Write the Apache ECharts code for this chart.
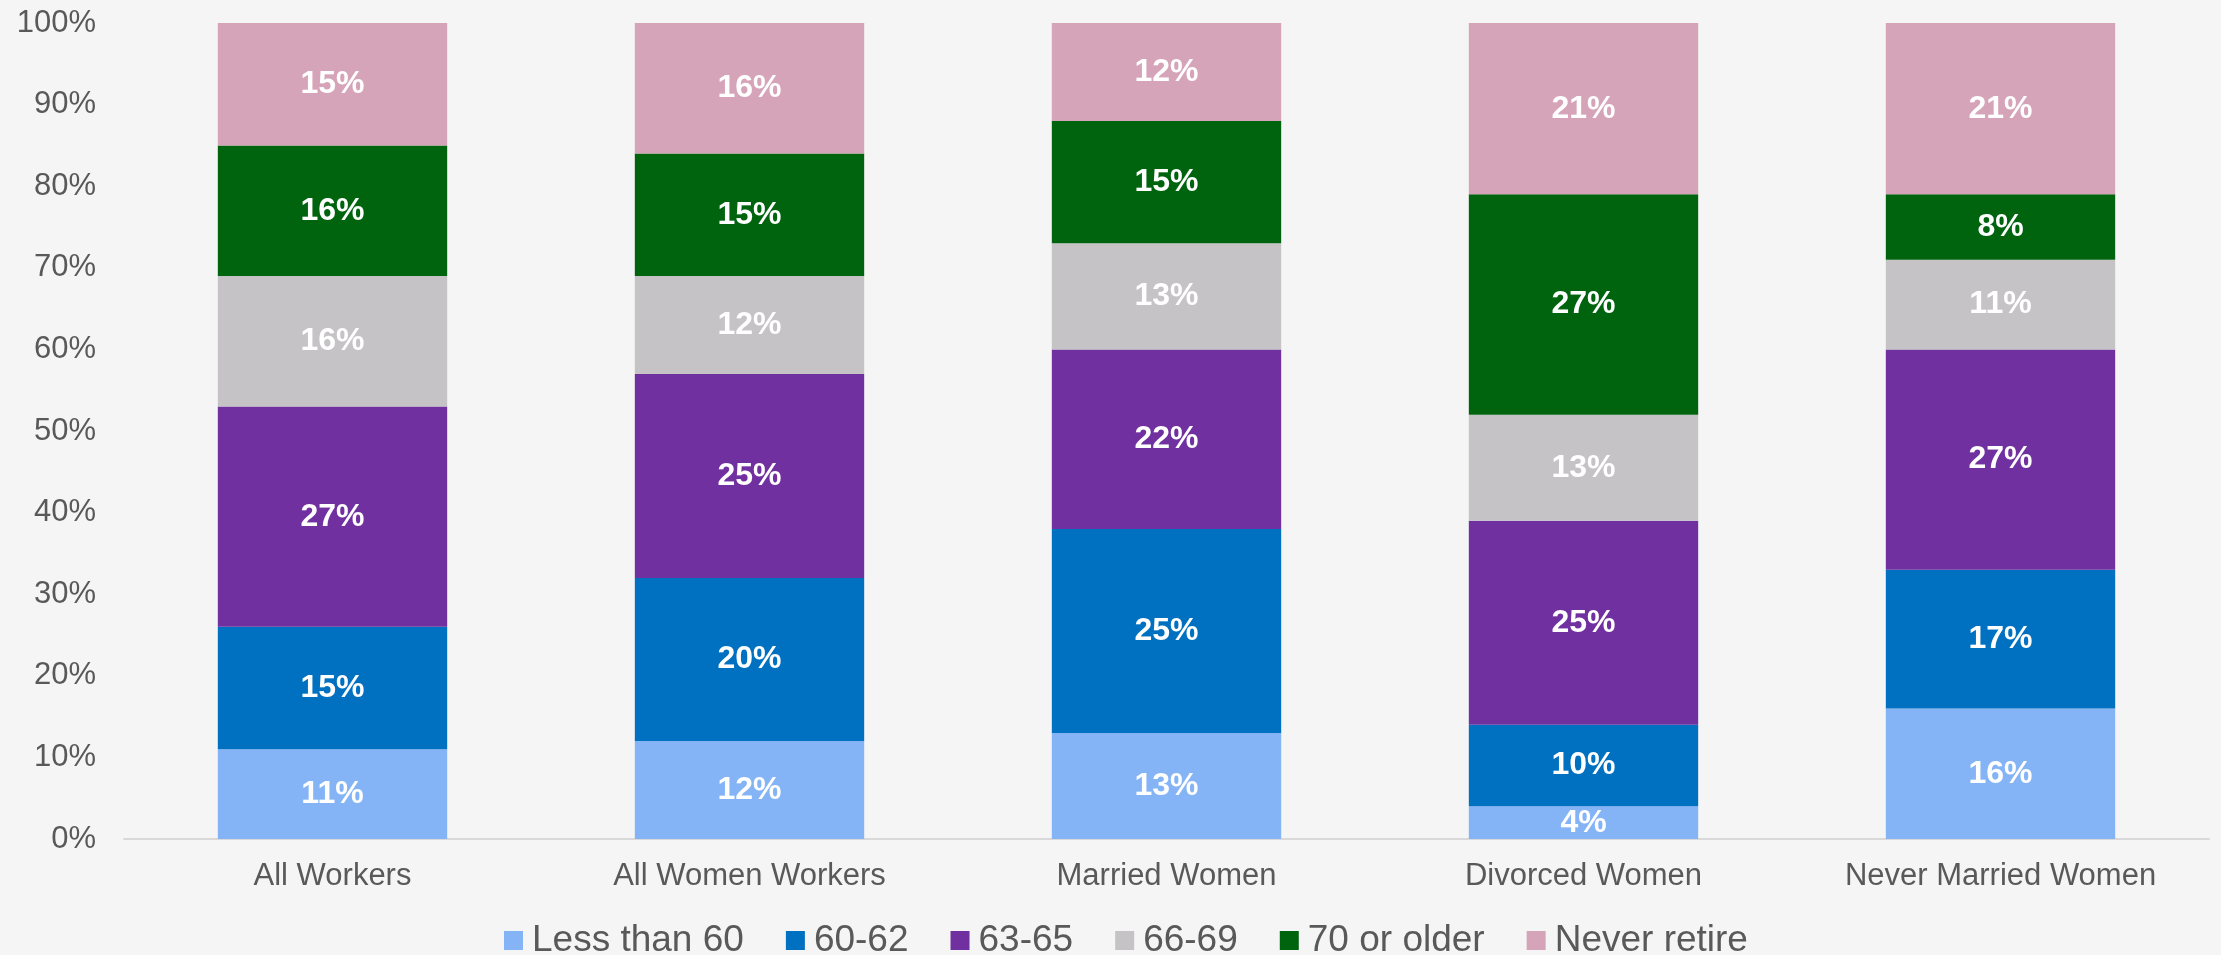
<!DOCTYPE html>
<html>
<head>
<meta charset="UTF-8">
<title>Expected retirement age</title>
<script type="text/javascript" src="https://cdn.jsdelivr.net/npm/echarts@6.0.0/dist/echarts.min.js"></script>
<style>
	html, body { margin: 0; padding: 0; background: #f5f5f5; }
	#myEchart1 { width: 2221px; height: 955px; }
</style>
</head>
<body>
<div id="myEchart1"></div>

<script type="text/javascript">
//카테고리
var categories = ["All Workers", "All Women Workers", "Married Women", "Divorced Women", "Never Married Women"];
//시리즈 이름
var seriesNames = ["Less than 60", "60-62", "63-65", "66-69", "70 or older", "Never retire"];
//시리즈별 데이터 (%)
var lessThan60 = [11, 12, 13, 4, 16];
var age6062 = [15, 20, 25, 10, 17];
var age6365 = [27, 25, 22, 25, 27];
var age6669 = [16, 12, 13, 13, 11];
var age70Older = [16, 15, 15, 27, 8];
var neverRetire = [15, 16, 12, 21, 21];
//y축 눈금
var yTicks = [0, 10, 20, 30, 40, 50, 60, 70, 80, 90, 100];

var seriesColors = ["#85b4f6", "#0070c0", "#7030a0", "#c5c3c6", "#00640f", "#d6a4b9"];

document.addEventListener("DOMContentLoaded", function(){
	fnMakeEchart();
});

function fnMakeEchart(){
	var myEchart1 = echarts.init(document.getElementById("myEchart1"));
	var allData = [lessThan60, age6062, age6365, age6669, age70Older, neverRetire];

	var series = [];
	for (var i = 0; i < seriesNames.length; i++) {
		series.push({
			name: seriesNames[i]
			,type: "bar"
			,stack: "total"
			,barCategoryGap: "45%"
			,data: allData[i]
			,itemStyle: { color: seriesColors[i] }
			,label: {
				show: true
				,position: "inside"
				,formatter: "{c}%"
				,color: "#ffffff"
				,fontWeight: "bold"
				,fontSize: 32
				,fontFamily: "Arial, 'Liberation Sans', sans-serif"
			}
		});
	}

	var option = {
		backgroundColor: "#f5f5f5"
		,animation: false
		,textStyle: { fontFamily: "Arial, 'Liberation Sans', sans-serif" }
		,grid: { left: 124, right: 12, top: 23, bottom: 116, containLabel: false }
		,legend: {
			top: 917
			,left: 499
			,itemWidth: 19
			,itemHeight: 19
			,itemGap: 42
			,icon: "rect"
			,textStyle: { fontSize: 37, color: "#595959", padding: [0, 0, 0, 4] }
			,data: seriesNames
		}
		,xAxis: {
			type: "category"
			,data: categories
			,axisLine: { lineStyle: { color: "#d9d9d9", width: 2 } }
			,axisTick: { show: false }
			,axisLabel: { fontSize: 31, color: "#595959", margin: 22 }
		}
		,yAxis: {
			type: "value"
			,min: yTicks[0]
			,max: yTicks[yTicks.length - 1]
			,interval: 10
			,splitLine: { show: false }
			,axisLine: { show: false }
			,axisTick: { show: false }
			,axisLabel: { fontSize: 31, color: "#595959", margin: 28, formatter: "{value}%" }
		}
		,series: series
	};

	myEchart1.setOption(option, true);
}
</script>
</body>
</html>
